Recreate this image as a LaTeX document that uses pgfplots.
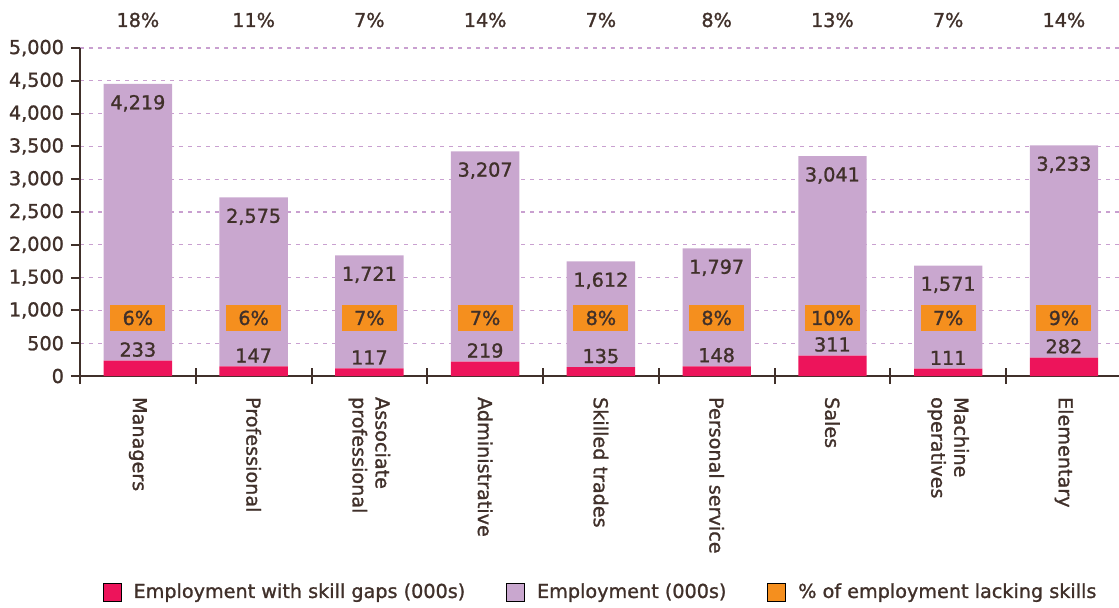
\documentclass[border=0pt]{standalone}
\usepackage{fontspec}
\setmainfont{DejaVu Sans}[FakeBold=1.2]
\usepackage{pgfplots}
\pgfplotsset{compat=1.18}
\definecolor{cmag}{HTML}{ED145B}
\definecolor{clav}{HTML}{C9A7CF}
\definecolor{corg}{HTML}{F58F1E}
\definecolor{ctxt}{HTML}{40302A}
\definecolor{cgrid}{HTML}{C9A0D0}
\begin{document}
\begin{tikzpicture}[font=\fontsize{9.6}{11.5}\selectfont]
\pgfplotsset{
  base/.style={
    scale only axis, width=519.5pt, height=164pt,
    xmin=-0.5, xmax=8.476, ymin=0, ymax=5000,
    at={(0,0)}, anchor=south west,
    /pgf/number format/assume math mode=true,
    /pgf/number format/1000 sep={,},
    tick label style={text=ctxt},
  }
}
\begin{axis}[base,
  ybar stacked, bar width=0.59,
  axis x line=bottom, axis y line=left,
  axis line style={-, draw=ctxt, line width=1pt},
  ytick={0,500,...,5000}, scaled y ticks=false,
  ymajorgrids, grid style={cgrid, dash pattern=on 2pt off 2.5pt, line width=0.6pt},
  tick align=outside, major tick length=4.5pt,
  tick style={draw=ctxt, line width=1pt},
  xtick={0,...,8},
  xticklabels={Managers, Professional, {Associate\\professional}, Administrative, Skilled trades, Personal service, Sales, {Machine\\operatives}, Elementary},
  major x tick style={draw=none},
  xticklabel style={yshift=-2.5pt, rotate=-90, anchor=west, align=left},
  extra x ticks={-0.5,0.5,...,7.5},
  extra x tick labels={},
  extra x tick style={tick align=center, major tick length=8pt, major x tick style={draw=ctxt, line width=1pt}, grid=none},
]
\addplot[fill=cmag, draw=none]
  coordinates {(0,233) (1,147) (2,117) (3,219) (4,135) (5,148) (6,311) (7,111) (8,282)};
\addplot[fill=clav, draw=none]
  coordinates {(0,4219) (1,2575) (2,1721) (3,3207) (4,1612) (5,1797) (6,3041) (7,1571) (8,3233)};
\end{axis}
\begin{axis}[base, hide axis, clip=false,
  legend style={at={(0.502,-0.659)}, anchor=center, draw=none, fill=none,
    legend columns=3,
    /tikz/every odd column/.append style={column sep=4pt},
    /tikz/every even column/.append style={column sep=18.5pt},
    font=\fontsize{9.6}{11.5}\selectfont, text=ctxt},
  legend cell align=left,
  legend image code/.code={\fill[#1] (0pt,-4.5pt) rectangle (9pt,4.5pt);},
  point meta=explicit symbolic,
]
% skill-gap values, placed just above the magenta segment
\addplot[draw=none, mark=none, forget plot, nodes near coords,
  every node near coord/.append style={anchor=south, yshift=-1.6pt, text=ctxt}]
  coordinates {(0,233)[233] (1,147)[147] (2,117)[117] (3,219)[219] (4,135)[135] (5,148)[148] (6,311)[311] (7,111)[111] (8,282)[282]};
% employment values, placed just below the top of each stacked bar (233+4219 etc.)
\addplot[draw=none, mark=none, forget plot, nodes near coords,
  every node near coord/.append style={anchor=north, yshift=-2pt, text=ctxt}]
  coordinates {(0,4452)[4,219] (1,2722)[2,575] (2,1838)[1,721] (3,3426)[3,207] (4,1747)[1,612] (5,1945)[1,797] (6,3352)[3,041] (7,1682)[1,571] (8,3515)[3,233]};
\addplot[draw=none, mark=none, forget plot, nodes near coords,
  every node near coord/.append style={anchor=center, fill=corg, minimum width=27.5pt, minimum height=13pt, inner sep=0pt, text=ctxt}]
  coordinates {(0,885)[6\%] (1,885)[6\%] (2,885)[7\%] (3,885)[7\%] (4,885)[8\%] (5,885)[8\%] (6,885)[10\%] (7,885)[7\%] (8,885)[9\%]};
\addplot[draw=none, mark=none, forget plot, nodes near coords,
  every node near coord/.append style={anchor=center, text=ctxt}]
  coordinates {(0,5427)[18\%] (1,5427)[11\%] (2,5427)[7\%] (3,5427)[14\%] (4,5427)[7\%] (5,5427)[8\%] (6,5427)[13\%] (7,5427)[7\%] (8,5427)[14\%]};
\addlegendimage{fill=cmag}
\addlegendentry{Employment with skill gaps (000s)}
\addlegendimage{fill=clav}
\addlegendentry{Employment (000s)}
\addlegendimage{fill=corg}
\addlegendentry{\% of employment lacking skills}
\end{axis}
\pgfresetboundingbox
\path[use as bounding box] (-40pt,-115.5pt) rectangle (519.5pt,188pt);
\end{tikzpicture}
\end{document}
